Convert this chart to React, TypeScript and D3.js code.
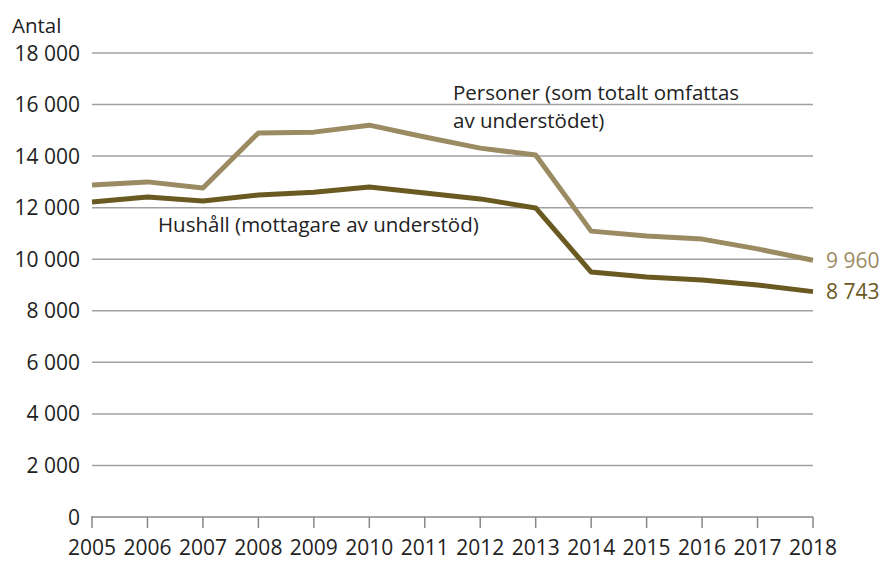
import React from 'react';
import * as d3 from 'd3';

const years = [2005, 2006, 2007, 2008, 2009, 2010, 2011, 2012, 2013, 2014, 2015, 2016, 2017, 2018];
const personer = [12880, 13000, 12760, 14900, 14930, 15200, 14740, 14310, 14040, 11090, 10900, 10780, 10400, 9960];
const hushall = [12220, 12410, 12260, 12490, 12600, 12800, 12570, 12340, 11990, 9500, 9310, 9190, 9000, 8743];
const yTicks = [0, 2000, 4000, 6000, 8000, 10000, 12000, 14000, 16000, 18000];

const W = 886;
const H = 561;
const lightCol = '#9b8b63';
const darkCol = '#6a5a22';
const font = "'Open Sans', 'Noto Sans', sans-serif";

const fmt = (v: number) => d3.format(',')(v).replace(/,/g, ' ');

const App = () => {
  const x = d3.scaleLinear().domain([2005, 2018]).range([92, 813]);
  const y = d3.scaleLinear().domain([0, 18000]).range([517, 53]);

  const line = d3.line<number>()
    .x((_, i) => x(years[i]))
    .y(d => y(d));

  return (
    <svg width={W} height={H} style={{ position: 'absolute', left: 0, top: 0, background: '#fff' }}
      fontFamily={font} fontSize={20.5}>
      <text x={12} y={33} fill="#222">Antal</text>
      {yTicks.map(t => (
        <g key={t}>
          {t > 0 && <line x1={92} x2={813} y1={y(t)} y2={y(t)} stroke="#a0a0a0" strokeWidth={1.5} />}
          <text x={80} y={y(t)} dy="0.36em" textAnchor="end" fill="#222" fontSize={21}>{fmt(t)}</text>
        </g>
      ))}
      <line x1={91} x2={813} y1={y(0)} y2={y(0)} stroke="#888" strokeWidth={1.5} />
      {years.map(yr => (
        <g key={yr}>
          <line x1={x(yr)} x2={x(yr)} y1={y(0)} y2={y(0) + 11} stroke="#888" strokeWidth={1.5} />
          <text x={x(yr)} y={555} textAnchor="middle" fill="#222" fontSize={21}>{yr}</text>
        </g>
      ))}
      <path d={line(personer) || ''} fill="none" stroke={lightCol} strokeWidth={5} strokeLinejoin="round" />
      <path d={line(hushall) || ''} fill="none" stroke={darkCol} strokeWidth={5} strokeLinejoin="round" />
      <text x={453} y={100} fill="#222">Personer (som totalt omfattas</text>
      <text x={453} y={128} fill="#222">av understödet)</text>
      <text x={158} y={232} fill="#222">Hushåll (mottagare av understöd)</text>
      <text x={826} y={y(personer[personer.length - 1])} dy="0.36em" fill={lightCol} fontSize={21}>{fmt(9960)}</text>
      <text x={826} y={y(hushall[hushall.length - 1])} dy="0.36em" fill={darkCol} fontSize={21}>{fmt(8743)}</text>
    </svg>
  );
};

export default App;
